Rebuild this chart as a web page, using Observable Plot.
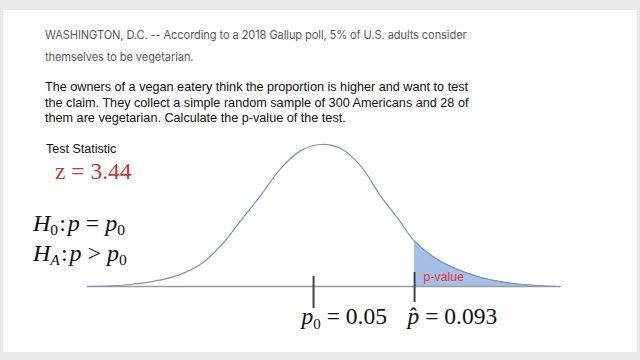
<!DOCTYPE html>
<html><head><meta charset="utf-8">
<script src="https://cdn.jsdelivr.net/npm/d3@7"></script>
<script src="https://cdn.jsdelivr.net/npm/@observablehq/plot@0.6"></script>
<style>
html,body{margin:0;padding:0;width:640px;height:360px;overflow:hidden;background:#e8e8e6;position:relative;}
#slide{position:absolute;left:3px;top:10px;width:634px;height:342px;background:#fff;}
.txt{position:absolute;white-space:nowrap;}
#news{left:45px;top:24px;font-family:Inter,"Open Sans",sans-serif;font-size:11.1px;color:#5a5a5a;line-height:22px;letter-spacing:-0.1px;}
#para{left:45px;top:80px;font-family:"Liberation Sans",Arial,sans-serif;font-size:12.65px;color:#111;line-height:15.6px;}
#ts{left:46px;top:142px;font-family:"Liberation Sans",Arial,sans-serif;font-size:12.5px;color:#111;}
#z{left:55px;top:158px;font-family:"Liberation Serif",serif;font-size:23.5px;color:#c0393c;}
#hyp{left:33px;top:208px;font-family:"Liberation Serif",serif;font-size:24px;color:#111;line-height:30px;}
#hyp sub{font-size:65%;vertical-align:-0.25em;line-height:0;}
#hyp .c{margin:0 2px 0 1px;}
#chart{position:absolute;left:0;top:130px;}
</style></head><body>
<div id="slide"></div>
<div class="txt" id="news">WASHINGTON, D.C. -- According to a 2018 Gallup poll, 5% of U.S. adults consider<br>themselves to be vegetarian.</div>
<div class="txt" id="para">The owners of a vegan eatery think the proportion is higher and want to test<br>the claim. They collect a simple random sample of 300 Americans and 28 of<br>them are vegetarian. Calculate the p-value of the test.</div>
<div class="txt" id="ts">Test Statistic</div>
<div class="txt" id="z">z = 3.44</div>
<div class="txt" id="hyp"><i>H</i><sub>0</sub><span class="c">:</span><i>p</i> = <i>p</i><sub>0</sub><br><i>H<sub>A</sub></i><span class="c">:</span><i>p</i> &gt; <i>p</i><sub>0</sub></div>
<div id="chart"></div>
<script>
// Curve: horizontal position (proportion units) and relative height (peak = 1)
const positions = [-0.0462, -0.0279, -0.0139, -0.0066, 0.0019, 0.0104, 0.0189, 0.0274, 0.0360, 0.0445, 0.0530, 0.0615, 0.0700, 0.0785, 0.0870, 0.0930, 0.1041, 0.1211, 0.1351, 0.1539, 0.1551];
const density   = [0, 0.014, 0.050, 0.085, 0.156, 0.284, 0.461, 0.638, 0.830, 0.957, 1.0, 0.972, 0.851, 0.638, 0.454, 0.319, 0.177, 0.064, 0.021, 0.0, 0.0];
const markerValues = [0.05, 0.093];
const markerNames = ["p0", "phat"];
const markerText = ["p0 = 0.05", "p\u0302 = 0.093"];
const tailLabel = "p-value";
const pHat = 0.093;

const curve = positions.map((x, i) => ({x, y: density[i]}));
const tail = curve.filter(d => d.x >= pHat);
const markers = markerValues.map((v, i) => ({v, name: markerNames[i], text: markerText[i]}));

const chart = Plot.plot({
  width: 640, height: 230,
  marginLeft: 87, marginRight: 80, marginTop: 14, marginBottom: 74,
  x: {domain: [positions[0], positions[positions.length - 1]], axis: null},
  y: {domain: [0, 1], axis: null},
  style: {background: "transparent", overflow: "visible"},
  marks: [
    Plot.areaY(tail, {x: "x", y: "y", fill: "#a4c0e4", curve: "catmull-rom"}),
    Plot.ruleY([0], {stroke: "#9c9c9c", strokeWidth: 1.3}),
    Plot.lineY(curve, {x: "x", y: "y", stroke: "#7d95ad", strokeWidth: 1.2, curve: "catmull-rom"}),
    Plot.ruleX(markers.filter(d => d.name === "p0"), {x: "v", stroke: "#444", strokeWidth: 2, insetTop: 132, insetBottom: -22}),
    Plot.ruleX(markers.filter(d => d.name === "phat"), {x: "v", stroke: "#444", strokeWidth: 2, insetTop: 128, insetBottom: -16}),
    Plot.text(markers, {x: "v", text: "text", frameAnchor: "bottom", textAnchor: "start", dy: 37,
      fontSize: 23.5, fontFamily: "Liberation Serif, serif", fill: "#111", className: "mlab"}),
    Plot.text([tailLabel], {x: () => pHat, text: d => d, frameAnchor: "bottom", textAnchor: "start", dx: 9, dy: -6,
      fontSize: 12.3, fontFamily: "Liberation Sans, Arial, sans-serif", fill: "#e2363c"})
  ]
});
document.getElementById("chart").appendChild(chart);

// rich math formatting of marker labels
d3.select(chart).selectAll("g.mlab text").each(function(d, i) {
  const t = d3.select(this);
  const m = markers[i];
  t.text(null);
  if (m.name === "p0") {
    t.attr("dx", -12);
    t.append("tspan").attr("font-style", "italic").text("p");
    t.append("tspan").attr("font-size", "15").attr("dy", 5).text("0");
    t.append("tspan").attr("dy", -5).text(" = 0.05");
  } else {
    t.attr("dx", -7);
    t.append("tspan").attr("font-style", "italic").text("p\u0302");
    t.append("tspan").text(" = 0.093");
  }
});
</script>
</body></html>
